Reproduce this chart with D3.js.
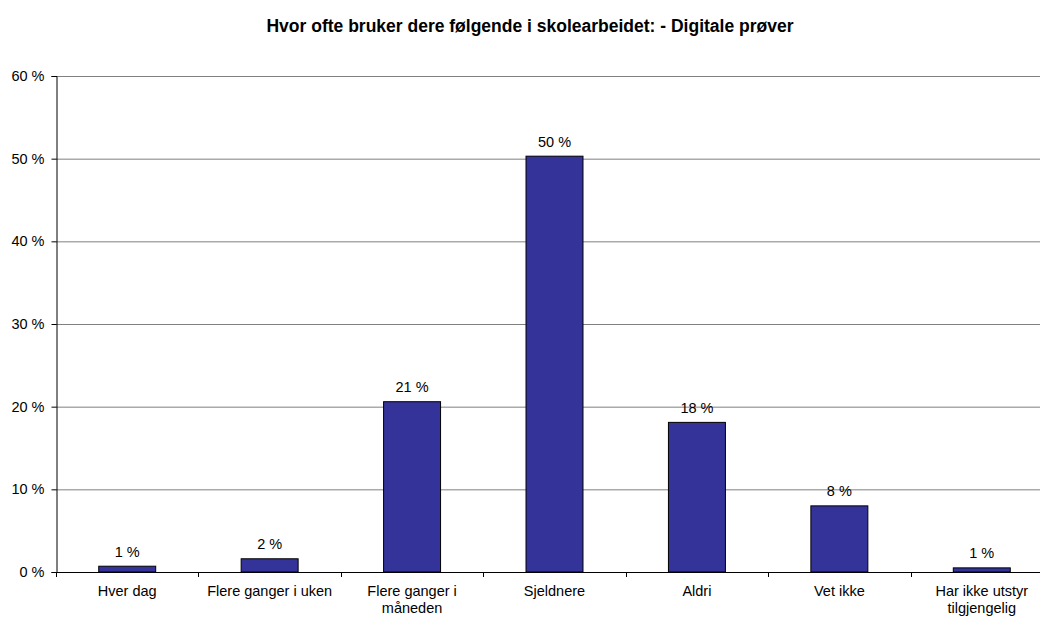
<!DOCTYPE html>
<html>
<head>
<meta charset="utf-8">
<script src="https://cdn.jsdelivr.net/npm/d3@7"></script>
<style>
  body { margin: 0; background: #fff; }
  svg { display: block; font-family: "Liberation Sans", Arial, sans-serif; }
</style>
</head>
<body>
<svg id="chart" width="1040" height="617"></svg>
<script>
// data
const categories = ["Hver dag", "Flere ganger i uken", "Flere ganger i måneden", "Sjeldnere", "Aldri", "Vet ikke", "Har ikke utstyr tilgjengelig"];
const values = [0.7, 1.6, 20.6, 50.3, 18.1, 8.0, 0.5];
const valueLabels = ["1 %", "2 %", "21 %", "50 %", "18 %", "8 %", "1 %"];
const yTicks = [0, 10, 20, 30, 40, 50, 60];
const chartTitle = "Hvor ofte bruker dere følgende i skolearbeidet: - Digitale prøver";

const plotLeft = 56, plotRight = 1053, plotTop = 76, plotBottom = 572;
const fontSize = "14.5px";

const svg = d3.select("#chart");

svg.append("text")
  .attr("x", 530)
  .attr("y", 32)
  .attr("text-anchor", "middle")
  .style("font-size", "17.5px")
  .style("font-weight", "bold")
  .text(chartTitle);

const x = d3.scaleBand()
  .domain(categories)
  .range([plotLeft, plotRight])
  .paddingInner(0.6)
  .paddingOuter(0.3);

const y = d3.scaleLinear()
  .domain([0, 60])
  .range([plotBottom, plotTop]);

// gridlines
svg.append("g")
  .selectAll("line")
  .data(yTicks.filter(d => d > 0))
  .enter()
  .append("line")
  .attr("x1", plotLeft)
  .attr("x2", plotRight)
  .attr("y1", d => y(d) + 0.5)
  .attr("y2", d => y(d) + 0.5)
  .attr("stroke", "#808080")
  .attr("stroke-width", 1);

// bars
svg.append("g")
  .selectAll("rect")
  .data(values)
  .enter()
  .append("rect")
  .attr("x", (d, i) => x(categories[i]))
  .attr("y", d => y(d))
  .attr("width", x.bandwidth())
  .attr("height", d => plotBottom - y(d))
  .attr("fill", "#333399")
  .attr("stroke", "#000")
  .attr("stroke-width", 1);

// value labels
svg.append("g")
  .selectAll("text")
  .data(values)
  .enter()
  .append("text")
  .attr("x", (d, i) => x(categories[i]) + x.bandwidth() / 2)
  .attr("y", d => y(d) - 9.5)
  .attr("text-anchor", "middle")
  .style("font-size", fontSize)
  .attr("fill", "#000")
  .text((d, i) => valueLabels[i]);

// y axis
const yAxis = svg.append("g")
  .attr("transform", `translate(${plotLeft + 0.5},0)`)
  .call(d3.axisLeft(y).tickValues(yTicks).tickSize(5).tickPadding(7).tickFormat(d => d + " %"));
yAxis.select(".domain").attr("stroke", "#000");
yAxis.selectAll(".tick line").attr("stroke", "#000");
yAxis.selectAll(".tick text").style("font-size", fontSize).style("font-family", "Liberation Sans, Arial, sans-serif").attr("fill", "#000");

// x axis: ticks at category boundaries
const step = x.step();
const boundaries = d3.range(categories.length + 1).map(i => plotLeft + i * step);
svg.append("line")
  .attr("x1", plotLeft)
  .attr("x2", plotRight)
  .attr("y1", plotBottom + 0.5)
  .attr("y2", plotBottom + 0.5)
  .attr("stroke", "#000");
svg.append("g")
  .selectAll("line")
  .data(boundaries)
  .enter()
  .append("line")
  .attr("x1", d => Math.round(d) + 0.5)
  .attr("x2", d => Math.round(d) + 0.5)
  .attr("y1", plotBottom)
  .attr("y2", plotBottom + 5)
  .attr("stroke", "#000");

// category labels, wrapped to fit the band
const labelLines = {
  "Flere ganger i måneden": ["Flere ganger i", "måneden"],
  "Har ikke utstyr tilgjengelig": ["Har ikke utstyr", "tilgjengelig"]
};
const catLabels = svg.append("g")
  .selectAll("text")
  .data(categories)
  .enter()
  .append("text")
  .attr("x", d => x(d) + x.bandwidth() / 2)
  .attr("y", plotBottom + 24)
  .attr("text-anchor", "middle")
  .style("font-size", fontSize)
  .attr("fill", "#000");
catLabels.each(function (d) {
  const lines = labelLines[d] || [d];
  const t = d3.select(this);
  lines.forEach((l, i) => {
    t.append("tspan")
      .attr("x", x(d) + x.bandwidth() / 2)
      .attr("dy", i === 0 ? 0 : 17)
      .text(l);
  });
});
</script>
</body>
</html>
